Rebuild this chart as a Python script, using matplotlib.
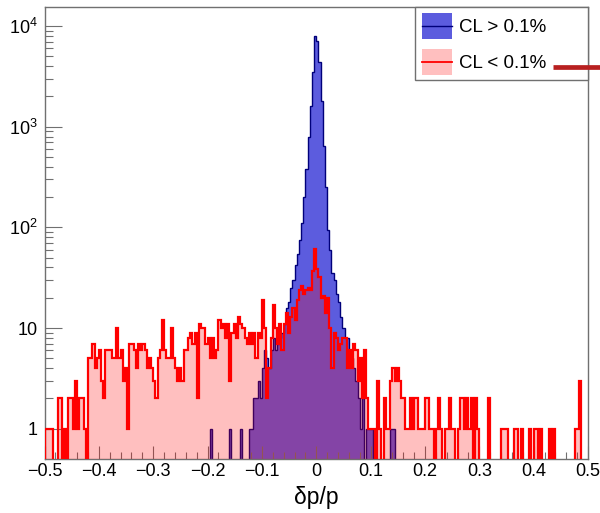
import matplotlib
matplotlib.use('Agg')
import matplotlib.pyplot as plt
from matplotlib import ticker
from matplotlib.patches import Rectangle
from matplotlib.lines import Line2D
import numpy as np

plt.rcParams['font.family'] = ['Liberation Sans', 'DejaVu Sans']
plt.rcParams['mathtext.default'] = 'regular'

# Histogram binning: 250 bins over [-0.5, 0.5]
x_range = (-0.5, 0.5)
n_bins = 250

# Counts per bin, tracks with CL < 0.1%
counts_low_cl = [
    1, 1, 1, 1, 0, 0, 2, 2, 0, 1, 0, 2, 2, 1, 3, 1, 2, 2, 1, 0, 5, 5, 7, 4, 5,
    6, 3, 2, 6, 6, 6, 5, 5, 10, 5, 6, 3, 4, 1, 7, 7, 6, 4, 7, 6, 7, 6, 4, 5, 4,
    3, 2, 5, 6, 12, 6, 5, 5, 10, 5, 4, 3, 4, 3, 6, 6, 8, 9, 7, 9, 2, 11, 10, 10, 7,
    8, 5, 8, 5, 6, 12, 10, 11, 8, 11, 3, 9, 11, 8, 13, 11, 10, 8, 7, 9, 7, 9, 5, 9, 8,
    19, 10, 2, 4, 8, 17, 10, 7, 11, 6, 11, 14, 9, 13, 16, 12, 19, 24, 26, 22, 24, 25, 24, 37, 61,
    39, 32, 20, 21, 14, 20, 10, 4, 9, 8, 6, 7, 8, 8, 4, 6, 4, 7, 6, 3, 5, 2, 6, 2, 1,
    1, 1, 0, 3, 1, 0, 2, 1, 1, 3, 4, 3, 4, 3, 2, 2, 1, 1, 2, 1, 2, 2, 1, 1, 1,
    2, 2, 1, 1, 0, 1, 2, 1, 0, 1, 1, 2, 1, 1, 0, 1, 2, 2, 1, 2, 1, 2, 0, 2, 1,
    0, 0, 0, 0, 2, 0, 0, 0, 0, 0, 1, 1, 1, 0, 0, 0, 1, 1, 0, 1, 0, 0, 0, 1, 0,
    1, 1, 0, 1, 0, 0, 0, 1, 0, 1, 0, 0, 0, 0, 0, 0, 0, 0, 0, 1, 1, 3, 0, 0, 0,
]

# Counts per bin, tracks with CL > 0.1%
counts_high_cl = [
    0, 0, 0, 0, 0, 0, 0, 0, 0, 0, 0, 0, 0, 0, 0, 0, 0, 0, 0, 0, 0, 0, 0, 0, 0,
    0, 0, 0, 0, 0, 0, 0, 0, 0, 0, 0, 0, 0, 0, 0, 0, 0, 0, 0, 0, 0, 0, 0, 0, 0,
    0, 0, 0, 0, 0, 0, 0, 0, 0, 0, 0, 0, 0, 0, 0, 0, 0, 0, 0, 0, 0, 0, 0, 0, 0,
    0, 1, 0, 0, 0, 0, 0, 0, 0, 0, 1, 0, 0, 0, 0, 1, 0, 0, 0, 1, 1, 2, 2, 3, 2,
    4, 6, 5, 4, 6, 8, 6, 7, 8, 9, 11, 16, 18, 25, 30, 42, 55, 75, 110, 200, 380, 800, 1600, 3500, 8000,
    7200, 4400, 1800, 650, 250, 95, 60, 35, 30, 22, 18, 13, 10, 8, 8, 6, 5, 4, 3, 2, 1, 2, 0, 1, 1,
    1, 0, 0, 0, 0, 0, 0, 0, 0, 1, 1, 0, 0, 0, 0, 0, 0, 0, 0, 0, 0, 0, 0, 0, 0,
    0, 0, 0, 0, 0, 0, 0, 0, 0, 0, 0, 0, 0, 0, 0, 0, 0, 0, 0, 0, 0, 0, 0, 0, 0,
    0, 0, 0, 0, 0, 0, 0, 0, 0, 0, 0, 0, 0, 0, 0, 0, 0, 0, 0, 0, 0, 0, 0, 0, 0,
    0, 0, 0, 0, 0, 0, 0, 0, 0, 0, 0, 0, 0, 0, 0, 0, 0, 0, 0, 0, 0, 0, 0, 0, 0,
]

labels = ['CL > 0.1%', 'CL < 0.1%']
y_tick_values = [1, 10, 100, 1000, 10000]
y_tick_labels = ['1', '10', r'$10^{2}$', r'$10^{3}$', r'$10^{4}$']

blue_fill = (0.36, 0.36, 0.87)
blue_edge = '#00007a'
red_fill = (1.0, 0.0, 0.0, 0.25)
red_edge = '#ff0000'
frame_col = '#707070'

W, H = 600, 513


def fx(px):
    return px / W


def fy(py):
    # pixel rows counted from the top
    return 1 - py / H


edges = np.linspace(x_range[0], x_range[1], n_bins + 1)

fig = plt.figure(figsize=(W / 100, H / 100), dpi=100)
ax = fig.add_axes([fx(44.5), 54 / H, 543.5 / W, 452 / H])
ax.set_yscale('log')

hi = np.array(counts_high_cl, dtype=float)
lo = np.array(counts_low_cl, dtype=float)

ax.stairs(hi, edges, fill=True, color=blue_fill, baseline=0, zorder=1)
ax.stairs(hi, edges, color=blue_edge, lw=1.0, baseline=0, zorder=2)
ax.stairs(lo, edges, fill=True, color=red_fill, baseline=0, zorder=3)
ax.stairs(lo, edges, color=red_edge, lw=1.6, baseline=0, zorder=4)

ax.set_xlim(*x_range)
ax.set_ylim(0.5, 1.55e4)

# axis ticks, ROOT style (inside, bottom and left only)
ax.xaxis.set_major_locator(ticker.MultipleLocator(0.1))
ax.xaxis.set_minor_locator(ticker.MultipleLocator(0.02))
ax.xaxis.set_major_formatter(ticker.FuncFormatter(
    lambda v, p: '0' if abs(v) < 1e-9 else f'{v:.1f}'.replace('-', '\u2212')))
ax.set_yticks(y_tick_values)
ax.set_yticklabels(y_tick_labels)
minor_y = [m * 10 ** d for d in range(4) for m in range(2, 10)]
ax.yaxis.set_minor_locator(ticker.FixedLocator(minor_y))
ax.yaxis.set_minor_formatter(ticker.NullFormatter())

ax.tick_params(axis='x', which='major', direction='in', length=9.5, width=0.8,
               color=frame_col, labelsize=13, pad=3)
ax.tick_params(axis='x', which='minor', direction='in', length=5, width=0.8, color=frame_col)
ax.tick_params(axis='y', which='major', direction='in', length=12, width=0.8,
               color=frame_col, labelsize=13, pad=5)
ax.tick_params(axis='y', which='minor', direction='in', length=6, width=0.8, color=frame_col)
for s in ax.spines.values():
    s.set_color(frame_col)
    s.set_linewidth(1.0)

ax.set_xlabel('\u03b4p/p', fontsize=16.5, labelpad=4)

# legend drawn by hand: frame, colour swatches with their line, labels
fig.add_artist(Rectangle((fx(415), fy(80)), 173 / W, 73 / H, transform=fig.transFigure,
                         facecolor='white', edgecolor=frame_col, lw=1.0, zorder=5))
entries = [(blue_fill, blue_edge, 1.0, 25.5), (red_fill, red_edge, 1.3, 62.0)]
for (fc, lc, lw, yc), text in zip(entries, labels):
    fig.add_artist(Rectangle((fx(421.7), fy(yc + 13)), 30 / W, 26 / H,
                             transform=fig.transFigure, facecolor=fc,
                             edgecolor='none', zorder=6))
    fig.add_artist(Line2D([fx(421.7), fx(451.7)], [fy(yc), fy(yc)],
                          transform=fig.transFigure, color=lc, lw=lw, zorder=7))
    fig.text(fx(459), fy(yc), text, fontsize=13.5, ha='left', va='center_baseline',
             zorder=7)

# thick marker line next to the second entry
fig.add_artist(Line2D([fx(553), 1.0], [fy(66.7)] * 2, transform=fig.transFigure,
                      color='#b82020', lw=3.4, solid_capstyle='butt', zorder=7))

fig.savefig('out.png', dpi=100)
